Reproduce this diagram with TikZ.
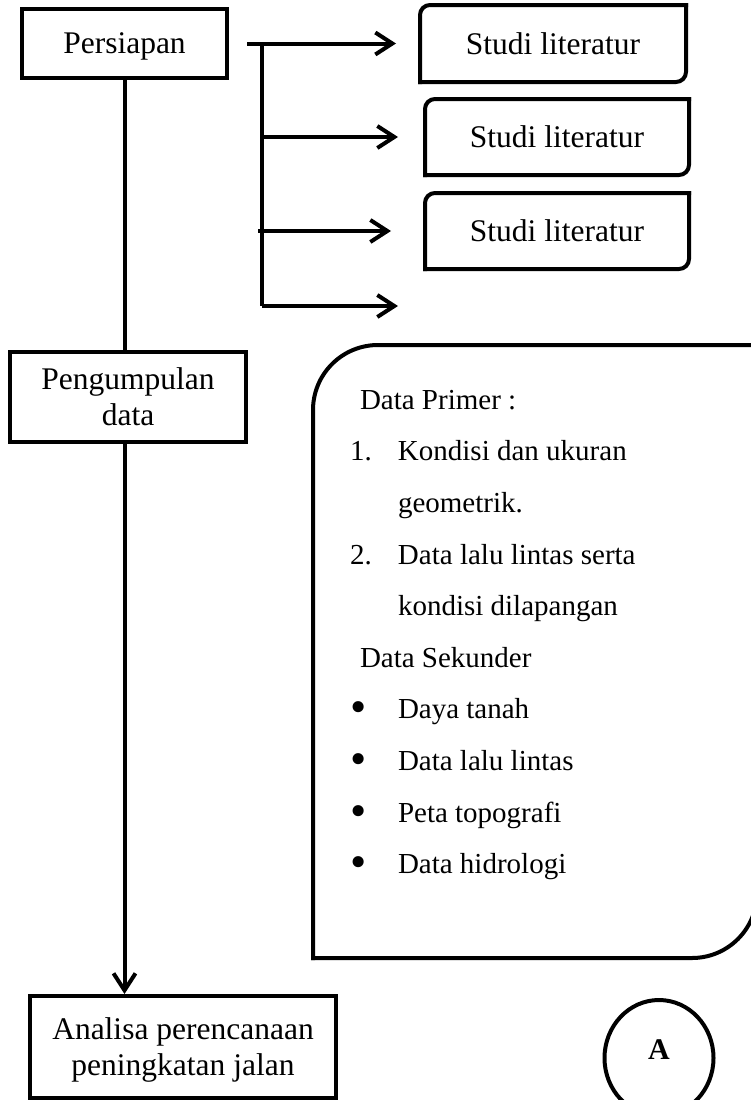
\documentclass[tikz,border=0pt]{standalone}
\usepackage{fontspec}
\usepackage{graphicx}
\setmainfont{Liberation Serif}
\usetikzlibrary{shapes.geometric,arrows.meta}

% list bullet, a bit larger than the text one
\newcommand{\listdot}{\raisebox{-4pt}{\scalebox{1.6}{•}}}

\begin{document}
\begin{tikzpicture}[x=1pt, y=-1pt, line width=4pt, >={Straight Barb[length=17pt, width=22pt]}]

% flow box style
\tikzstyle{box} = [
    draw,
    rectangle,
    align=center,
    inner sep=0pt,
    font=\fontsize{31.5}{36}\selectfont
]

% literature box style, outline drawn later
\tikzstyle{lit} = [
    rectangle,
    minimum width=260pt,
    minimum height=72pt,
    inner sep=0pt,
    font=\fontsize{31.5}{36}\selectfont
]

% list text style
\tikzstyle{list} = [
    align=left,
    inner sep=0pt,
    font=\fontsize{29}{51.6}\selectfont
]

\useasboundingbox (0,0) rectangle (750,1100);

% Place the nodes.
\node [box, minimum width=205pt, minimum height=69pt, text depth=0pt] (persiapan) at (124.5,43.5) {Persiapan};
\node [box, minimum width=236pt, minimum height=90pt] (pengumpulan) at (128,397) {Pengumpulan\\data};
\node [box, minimum width=306pt, minimum height=102pt, text depth=0pt] (analisa) at (183,1047) {Analisa perencanaan\\peningkatan jalan};

\node [lit, minimum width=262pt, minimum height=73pt] (studi1) at (553,43.5) {Studi literatur};
\node [lit] (studi2) at (557,137) {Studi literatur};
\node [lit] (studi3) at (557,231) {Studi literatur};

% data box and its contents
\node [minimum width=440pt, minimum height=609pt, inner sep=0pt] (datasrc) at (535,651.5) {};
\node [list, anchor=north west] (datalist) at (348,388) {%
    \hspace*{10pt}Data Primer :\\
    \makebox[48pt][l]{1.}Kondisi dan ukuran\\
    \hspace*{48pt}geometrik.\\
    \makebox[48pt][l]{2.}Data lalu lintas serta\\
    \hspace*{48pt}kondisi dilapangan\\
    \hspace*{10pt}Data Sekunder\\
    \makebox[48pt][l]{\listdot}Daya tanah\\
    \makebox[48pt][l]{\listdot}Data lalu lintas\\
    \makebox[48pt][l]{\listdot}Peta topografi\\
    \makebox[48pt][l]{\listdot}Data hidrologi};

% off-page connector
\node [draw, ellipse, minimum width=109pt, minimum height=116pt, inner sep=0pt,
       text height=22pt, text depth=20pt, font=\fontsize{30}{36}\selectfont\bfseries] (conn) at (659,1058) {A};

% Connect the nodes.
\draw (persiapan.south) -- (persiapan.south |- pengumpulan.north);
\draw [->] (persiapan.south |- pengumpulan.south) -- (persiapan.south |- analisa.north);

\coordinate (stub) at (247,43.5);
\coordinate (fork) at (262,43.5);
\coordinate (forkend) at (262,306);
\coordinate (open) at (398,306);

\draw (fork) -- (forkend);
\draw [->, shorten >=24pt] (stub) -- (studi1.west);
\draw [->, shorten >=27pt] (fork |- studi2.west) -- (studi2.west);
\draw [->, shorten >=34pt] ([xshift=-4pt]fork |- studi3.west) -- (studi3.west);
\draw [->] (forkend) -- (open);

% Draw the outlines with two rounded corners.
\foreach \s in {studi1,studi2,studi3} {
    \draw [rounded corners=10pt, line cap=rect] (\s.north east) -- (\s.north west) -- (\s.south west);
    \draw [rounded corners=10pt, line cap=rect] (\s.south west) -- (\s.south east) -- (\s.north east);
}
\draw [rounded corners=65pt, line cap=rect] (datasrc.north east) -- (datasrc.north west) -- (datasrc.south west);
\draw [rounded corners=65pt, line cap=rect] (datasrc.south west) -- (datasrc.south east) -- (datasrc.north east);

\end{tikzpicture}
\end{document}
